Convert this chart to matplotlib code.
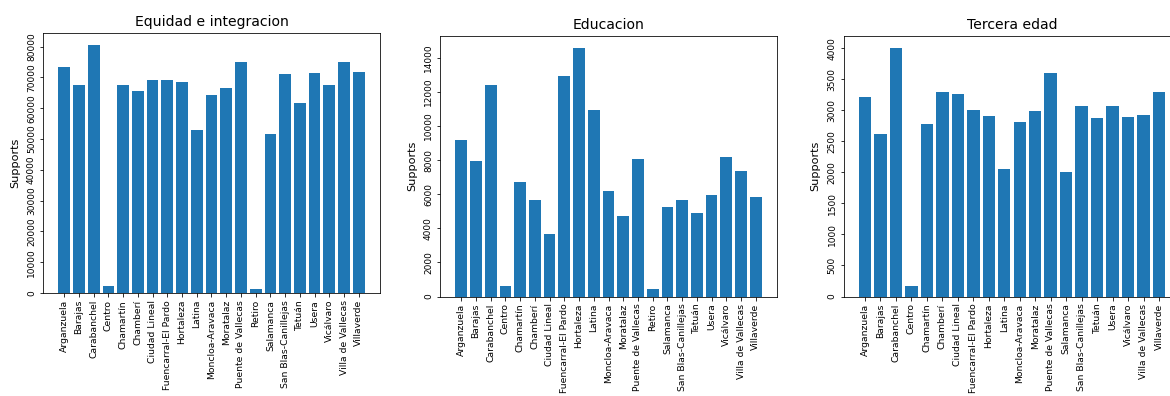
import matplotlib
matplotlib.use("Agg")
import matplotlib.pyplot as plt
from matplotlib.ticker import MultipleLocator

districts = ["Arganzuela", "Barajas", "Carabanchel", "Centro", "Chamartín", "Chamberí",
             "Ciudad Lineal", "Fuencarral-El Pardo", "Hortaleza", "Latina",
             "Moncloa-Aravaca", "Moratalaz", "Puente de Vallecas", "Retiro", "Salamanca",
             "San Blas-Canillejas", "Tetuán", "Usera", "Vicálvaro", "Villa de Vallecas",
             "Villaverde"]

equidad = [73300, 67600, 80400, 2150, 67600, 65650, 69100, 69100, 68350, 52850,
           64150, 66400, 75150, 1400, 51650, 71050, 61550, 71400, 67600, 75150, 71700]

educacion = [9170, 7920, 12380, 590, 6690, 5650, 3660, 12930, 14570, 10930,
             6200, 4690, 8060, 450, 5240, 5650, 4890, 5940, 8190, 7370, 5810]

# Retiro has no entry in this category
tercera_districts = [d for d in districts if d != "Retiro"]
tercera = [3210, 2626, 4000, 177, 2776, 3302, 3270, 3001, 2910, 2062,
           2819, 2985, 3608, 2003, 3077, 2872, 3077, 2889, 2926, 3291]

W, H = 1170, 396
fig = plt.figure(figsize=(W / 72, H / 72), dpi=72)


def rect(left, top, right, bottom):
    return [left / W, (H - bottom) / H, (right - left) / W, (bottom - top) / H]


panels = [
    ("Equidad e integracion", districts, equidad, rect(43, 33, 380, 293), 10000),
    ("Educacion", districts, educacion, rect(440, 35.5, 777, 296.5), 2000),
    ("Tercera edad", tercera_districts, tercera, rect(843.5, 36, 1180.5, 296.5), 500),
]

for title, cats, vals, pos, step in panels:
    ax = fig.add_axes(pos)
    ax.bar(cats, vals, color="#1f77b4")
    ax.set_title(title, fontsize=14, pad=7)
    ax.set_ylabel("Supports", fontsize=11.2, labelpad=7)
    ax.yaxis.set_major_locator(MultipleLocator(step))
    ax.tick_params(axis="x", labelrotation=90, labelsize=9.3)
    ax.tick_params(axis="y", labelrotation=90, labelsize=9)
    for lbl in ax.get_yticklabels():
        lbl.set_va("center")

fig.savefig("out.png", dpi=72)
